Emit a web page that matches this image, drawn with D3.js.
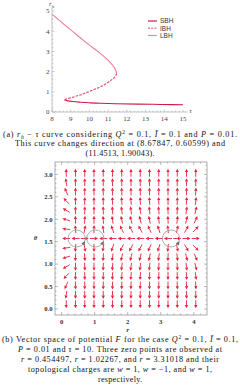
<!DOCTYPE html>
<html lang="en">
<head>
<meta charset="UTF-8">
<title>rh - tau curve and vector field</title>
<script src="https://d3js.org/d3.v7.min.js"></script>
<style>
  html, body { margin: 0; padding: 0; background: #fff; }
  svg { display: block; }
  .cap { font-family: "Liberation Serif", serif; font-size: 8.2px; fill: #111; }
  .tk { font-family: "Liberation Serif", serif; font-size: 7px; fill: #444; }
  .tkb { font-family: "Liberation Serif", serif; font-size: 6.6px; font-weight: bold; fill: #333; }
  .leg { font-family: "Liberation Sans", Arial, sans-serif; font-size: 6.5px; fill: #333; }
</style>
</head>
<body>
<svg id="chart" width="240" height="392"></svg>
<script>
// ---- panel (a): rh - tau curve ----
const sbhTau = [15.0, 13.8, 12.6, 11.4, 10.6, 10.0, 9.45, 9.1, 8.85, 8.72, 8.678];
const sbhR   = [0.36, 0.375, 0.39, 0.41, 0.43, 0.4545, 0.49, 0.52, 0.55, 0.58, 0.606];
const ibhTau = [8.678, 8.78, 8.98, 9.35, 9.68, 10.0, 10.48, 10.88, 11.2, 11.38, 11.4513];
const ibhR   = [0.606, 0.65, 0.70, 0.80, 0.90, 1.0227, 1.2, 1.4, 1.6, 1.75, 1.9];
const lbhTau = [11.4513, 11.39, 11.25, 10.95, 10.45, 10.0, 9.48, 8.82, 8.03];
const lbhR   = [1.9, 2.1, 2.3, 2.6, 3.0, 3.31, 3.7, 4.2, 4.82];
const tauTicks = [8, 9, 10, 11, 12, 13, 14, 15];
const rhTicks = [0, 1, 2, 3, 4, 5];
const seriesNames = ["SBH", "IBH", "LBH"];

// ---- panel (b): vector field on a 15 x 15 grid ----
const rGrid = [0.14, 0.42, 0.70, 0.98, 1.26, 1.54, 1.82, 2.10, 2.38, 2.66, 2.94, 3.22, 3.50, 3.78, 4.06];
const thetaGrid = [0.105, 0.314, 0.524, 0.733, 0.942, 1.152, 1.361, 1.571, 1.780, 1.990, 2.199, 2.409, 2.618, 2.827, 3.037];
const phiR = [-2.1, -0.024, 0.050, 0.0075, -0.046, -0.098, -0.143, -0.161, -0.160, -0.135, -0.093, -0.026, 0.061, 0.166, 0.29];
const phiTheta = [-90.5, -9.97, -3.46, -1.66, -0.90, -0.487, -0.218, 0, 0.218, 0.487, 0.90, 1.66, 3.46, 9.97, 90.5];
const zeroR = [0.454497, 1.02267, 3.31018];
const rTicks = [0, 1, 2, 3, 4];
const thetaTicks = [0, 0.5, 1.0, 1.5, 2.0, 2.5, 3.0];

const svg = d3.select("#chart");

// rich text helper: segments {t, i (italic), sub, sup}
function richText(g, x, y, segs, width, cls) {
  const t = g.append("text").attr("class", cls).attr("x", x).attr("y", y)
    .attr("text-anchor", "middle");
  let off = 0;
  segs.forEach(s => {
    const target = s.sub ? 2 : (s.sup ? -3 : 0);
    const sp = t.append("tspan").text(s.t).attr("dy", target - off);
    off = target;
    if (s.i) sp.attr("font-style", "italic");
    if (s.sub || s.sup) sp.attr("font-size", "5.6px");
  });
  if (width) t.attr("textLength", width).attr("lengthAdjust", "spacing");
  return t;
}

// ================= panel (a) =================
const xa = d3.scaleLinear().domain([8, 15]).range([52, 183]);
const ya = d3.scaleLinear().domain([0, 5]).range([112, 11]);
const ga = svg.append("g");

// axes (Mathematica style: ticks on the inner side, minor ticks)
const axisCol = "#9a9a9a";
ga.append("line").attr("x1", xa(8)).attr("x2", xa(15.25)).attr("y1", ya(0)).attr("y2", ya(0))
  .attr("stroke", axisCol).attr("stroke-width", 0.6);
ga.append("line").attr("x1", xa(8)).attr("x2", xa(8)).attr("y1", ya(0)).attr("y2", ya(5.15))
  .attr("stroke", axisCol).attr("stroke-width", 0.6);
const xMinor = d3.range(8, 15.01, 0.2);
ga.selectAll(".xmin").data(xMinor).join("line")
  .attr("x1", d => xa(d)).attr("x2", d => xa(d))
  .attr("y1", ya(0)).attr("y2", d => ya(0) - (Math.abs(d - Math.round(d)) < 1e-6 ? 2.5 : 1.3))
  .attr("stroke", axisCol).attr("stroke-width", 0.5);
const yMinor = d3.range(0, 5.01, 0.2);
ga.selectAll(".ymin").data(yMinor).join("line")
  .attr("y1", d => ya(d)).attr("y2", d => ya(d))
  .attr("x1", xa(8)).attr("x2", d => xa(8) + (Math.abs(d - Math.round(d)) < 1e-6 ? 2.5 : 1.3))
  .attr("stroke", axisCol).attr("stroke-width", 0.5);
ga.selectAll(".xl").data(tauTicks).join("text").attr("class", "tk")
  .attr("x", d => xa(d)).attr("y", ya(0) + 8.6).attr("text-anchor", "middle").text(d => d);
ga.selectAll(".yl").data(rhTicks).join("text").attr("class", "tk")
  .attr("x", xa(8) - 2.5).attr("y", d => ya(d) + 2.4).attr("text-anchor", "end").text(d => d);
ga.append("text").attr("class", "tk").attr("x", xa(8) - 3).attr("y", 6)
  .html('<tspan font-style="italic">r</tspan><tspan font-style="italic" font-size="5px" dy="1.5">h</tspan>');
ga.append("text").attr("class", "tk").attr("x", xa(15.25) + 1.5).attr("y", ya(0) + 1)
  .attr("font-style", "italic").text("τ");

const colors = { SBH: "#d4184a", IBH: "#e0486c", LBH: "#ec7b94" };
const lineA = d3.line().x(d => xa(d[0])).y(d => ya(d[1])).curve(d3.curveMonotoneY);
const curves = [
  { name: "LBH", pts: d3.zip(lbhTau, lbhR), dash: null },
  { name: "IBH", pts: d3.zip(ibhTau, ibhR), dash: "2.6,1.2" },
  { name: "SBH", pts: d3.zip(sbhTau, sbhR), dash: null }
];
curves.forEach(c => {
  ga.append("path").attr("d", lineA(c.pts)).attr("fill", "none")
    .attr("stroke", colors[c.name]).attr("stroke-width", 1.1)
    .attr("stroke-dasharray", c.dash);
});

// legend
const leg = ga.append("g").attr("transform", "translate(148,21)");
seriesNames.forEach((n, i) => {
  leg.append("line").attr("x1", 0).attr("x2", 9).attr("y1", i * 7.2).attr("y2", i * 7.2)
    .attr("stroke", colors[n]).attr("stroke-width", n === "SBH" ? 1.2 : 1)
    .attr("stroke-dasharray", n === "IBH" ? "2,1.2" : null);
  leg.append("text").attr("class", "leg").attr("x", 12).attr("y", i * 7.2 + 2.3).text(n);
});

// caption (a)
const capA = [
  [{t:"(a) "},{t:"r",i:1},{t:"h",i:1,sub:1},{t:" − "},{t:"τ",i:1},{t:" curve considering "},{t:"Q",i:1},{t:"2",sup:1},{t:" = 0.1, "},{t:"Ī",i:1},{t:" = 0.1 and "},{t:"P",i:1},{t:" = 0.01."}],
  [{t:"This curve changes direction at (8.67847, 0.60599) and"}],
  [{t:"(11.4513, 1.90043)."}]
];
const capAw = [234, 210, 69];
capA.forEach((segs, i) => richText(svg, 120, 137 + i * 9.4, segs, capAw[i], "cap"));

// ================= panel (b) =================
const xb = d3.scaleLinear().domain([-0.2, 4.4]).range([55, 207]);
const yb = d3.scaleLinear().domain([-0.134, 3.2756]).range([315, 162]);
const gb = svg.append("g");
const frameCol = "#777";
gb.append("rect").attr("x", xb(-0.2)).attr("y", yb(3.2756))
  .attr("width", xb(4.4) - xb(-0.2)).attr("height", yb(-0.134) - yb(3.2756))
  .attr("fill", "none").attr("stroke", frameCol).attr("stroke-width", 0.6);
const rMinor = d3.range(-0.2, 4.41, 0.2).filter(d => d > -0.19 && d < 4.39);
[yb(-0.134), yb(3.2756)].forEach((y0, k) => {
  gb.selectAll(null).data(rMinor).join("line")
    .attr("x1", d => xb(d)).attr("x2", d => xb(d)).attr("y1", y0)
    .attr("y2", d => y0 + (k === 0 ? -1 : 1) * (Math.abs(d - Math.round(d)) < 1e-6 ? 3 : 1.5))
    .attr("stroke", frameCol).attr("stroke-width", 0.5);
});
const tMinor = d3.range(0, 3.21, 0.1);
[xb(-0.2), xb(4.4)].forEach((x0, k) => {
  gb.selectAll(null).data(tMinor).join("line")
    .attr("y1", d => yb(d)).attr("y2", d => yb(d)).attr("x1", x0)
    .attr("x2", d => x0 + (k === 0 ? 1 : -1) * (Math.abs(d * 2 - Math.round(d * 2)) < 1e-6 ? 3 : 1.5))
    .attr("stroke", frameCol).attr("stroke-width", 0.5);
});
gb.selectAll(".bx").data(rTicks).join("text").attr("class", "tkb")
  .attr("x", d => xb(d)).attr("y", 323.5).attr("text-anchor", "middle").text(d => d);
gb.selectAll(".by").data(thetaTicks).join("text").attr("class", "tkb")
  .attr("x", 52.5).attr("y", d => yb(d) + 2.3).attr("text-anchor", "end").text(d => d.toFixed(1));
gb.append("text").attr("class", "tkb").attr("x", xb(2)).attr("y", 332)
  .attr("text-anchor", "middle").attr("font-style", "italic").text("r");
gb.append("text").attr("class", "tkb").attr("x", 35.5).attr("y", yb(1.571) + 2)
  .attr("text-anchor", "middle").attr("font-style", "italic").text("θ");

// arrows
const kx = xb(1) - xb(0), ky = yb(0) - yb(1);
const cells = [];
thetaGrid.forEach((th, j) => rGrid.forEach((r, i) => cells.push({ r, th, vr: phiR[i], vt: phiTheta[j] })));
const arrowCol = "#e6203c";
const L = 8, HL = 3.3, HW = 1.65;
cells.forEach(c => {
  let dx = c.vr * kx, dy = -c.vt * ky;
  const m = Math.hypot(dx, dy) || 1;
  dx /= m; dy /= m;
  const cx = xb(c.r), cy = yb(c.th);
  const x0 = cx - dx * L / 2, y0 = cy - dy * L / 2;
  const x1 = cx + dx * L / 2, y1 = cy + dy * L / 2;
  const bx = x1 - dx * HL, by = y1 - dy * HL;
  gb.append("line").attr("x1", x0).attr("y1", y0).attr("x2", bx).attr("y2", by)
    .attr("stroke", arrowCol).attr("stroke-width", 0.9);
  gb.append("path")
    .attr("d", `M${x1},${y1}L${bx - dy * HW},${by + dx * HW}L${bx + dy * HW},${by - dx * HW}Z`)
    .attr("fill", arrowCol);
});

// circles around the zero points
const cr = 0.26, ct = 0.19, circCol = "#8aa298";
zeroR.forEach(z => {
  const cx = xb(z), cy = yb(1.5708);
  const rx = xb(z + cr) - cx, ry = yb(1.5708 - ct) - cy;
  gb.append("ellipse").attr("cx", cx).attr("cy", cy).attr("rx", rx).attr("ry", ry)
    .attr("fill", "none").attr("stroke", circCol).attr("stroke-width", 0.8);
  const a = 30 * Math.PI / 180;
  const px = cx + rx * Math.cos(a), py = cy + ry * Math.sin(a);
  let tx = Math.sin(a), ty = -Math.cos(a);
  const s = 4, w = 1.8;
  const bx = px - tx * s / 2, by = py - ty * s / 2;
  const fx = px + tx * s / 2, fy = py + ty * s / 2;
  gb.append("path")
    .attr("d", `M${fx},${fy}L${bx - ty * w},${by + tx * w}L${bx + ty * w},${by - tx * w}Z`)
    .attr("fill", "#666");
});

// caption (b)
const capB = [
  [{t:"(b) Vector space of potential "},{t:"F",i:1},{t:" for the case "},{t:"Q",i:1},{t:"2",sup:1},{t:" = 0.1, "},{t:"Ī",i:1},{t:" = 0.1,"}],
  [{t:"P",i:1},{t:" = 0.01 and "},{t:"τ",i:1},{t:" = 10. Three zero points are observed at"}],
  [{t:"r",i:1},{t:" = 0.454497, "},{t:"r",i:1},{t:" = 1.02267, and "},{t:"r",i:1},{t:" = 3.31018 and their"}],
  [{t:"topological charges are "},{t:"w",i:1},{t:" = 1, "},{t:"w",i:1},{t:" = −1, and "},{t:"w",i:1},{t:" = 1,"}],
  [{t:"respectively."}]
];
const capBw = [236, 204, 198, 184, 44];
capB.forEach((segs, i) => richText(svg, 120, 342 + i * 10, segs, capBw[i], "cap"));
</script>
</body>
</html>
